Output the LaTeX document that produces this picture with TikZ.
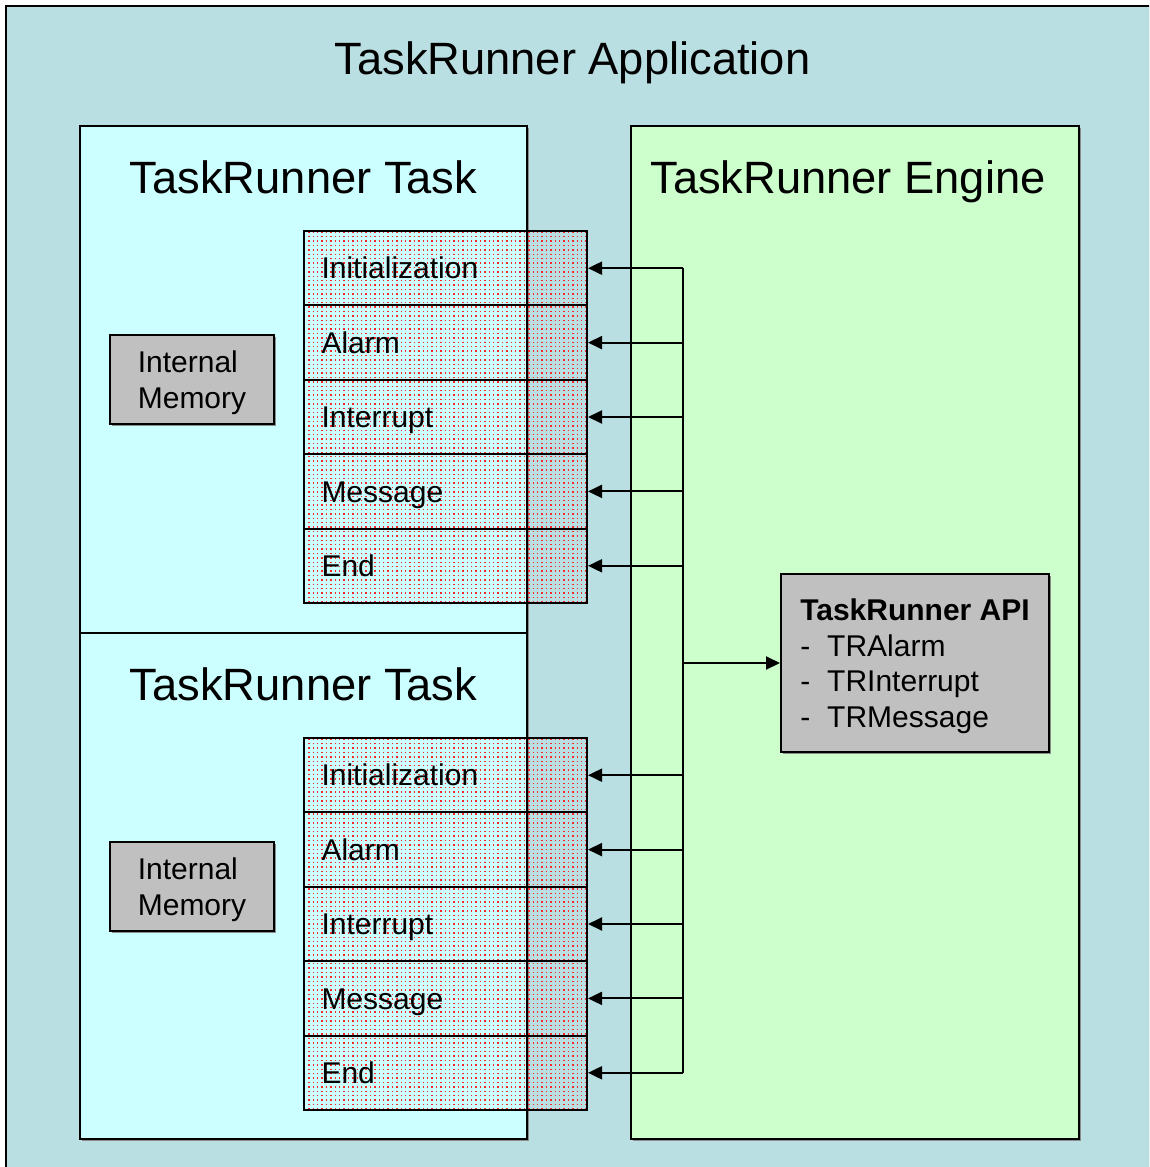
\documentclass[tikz,border=0pt]{standalone}
\usepackage{fontspec}
\setmainfont{Liberation Sans}
\usetikzlibrary{arrows.meta,shadows}

\definecolor{appbg}{HTML}{BADFE2}
\definecolor{taskbg}{HTML}{CCFFFF}
\definecolor{enginebg}{HTML}{CCFFCC}
\definecolor{membg}{HTML}{C0C0C0}

\newcommand{\bigfont}{\fontsize{45.3}{54}\selectfont}
\newcommand{\smallfont}{\fontsize{30}{35.6}\selectfont}

\begin{document}
\begin{tikzpicture}[x=1pt,y=-1pt,
  panel/.style={draw=black, line width=2pt, rectangle, inner sep=0pt, anchor=north west,
    drop shadow={shadow xshift=1.5pt, shadow yshift=-1.5pt, fill=black!45, opacity=1}},
  title/.style={anchor=base, font=\bigfont, inner sep=0pt},
  handler/.style={draw=black, line width=2pt, rectangle, anchor=north west,
    minimum width=283pt, minimum height=74.4pt, text width=248pt, align=left,
    inner xsep=17.5pt, inner ysep=0pt, text height=21.5pt, text depth=0pt, font=\smallfont},
  dotrow/.style={draw=red!85, line width=1.4pt, dash pattern=on 1.4pt off 3pt, dash phase=-0.7pt},
  graybox/.style={panel, fill=membg, font=\smallfont, align=left, text depth=0pt},
  conn/.style={line width=2pt, draw=black},
  arr/.style={conn, -{Triangle[length=14pt,width=13pt]}}
]
\fill[white] (0,0) rectangle (1149,1167);
\useasboundingbox (0,0) rectangle (1149,1167);
\clip (0,0) rectangle (1149,1167);

% application frame
\node[panel, fill=appbg, minimum width=1160pt, minimum height=1180pt] (app) at (5,5) {};
\node[title] (apptitle) at (572.5,74) {TaskRunner Application};

% task containers
\node[panel, fill=taskbg, minimum width=447pt, minimum height=507pt] (task1) at (79,125) {};
\node[panel, fill=taskbg, minimum width=447pt, minimum height=506pt] (task2) at (79,632) {};
\node[title] (task1title) at (303.5,193) {TaskRunner Task};
\node[title] (task2title) at (303.5,700) {TaskRunner Task};

% engine
\node[panel, fill=enginebg, minimum width=448pt, minimum height=1013pt] (engine) at (630,125) {};
\node[title] (enginetitle) at (848,193) {TaskRunner Engine};

% red dot screen behind each handler stack
\foreach \y in {230, 737} {
  \begin{scope}
    \clip (303,\y) rectangle (586,\y+372);
    \foreach \k in {0,...,84} {
      \draw[dotrow] (303,\y+2.2+\k*4.4) -- (587,\y+2.2+\k*4.4);
    }
  \end{scope}
}

% event handlers of each task
\foreach \t/\y in {1/230, 2/737} {
  \foreach \lbl [count=\i from 0] in {Initialization, Alarm, Interrupt, Message, End} {
    \node[handler] (h\t-\i) at (303,\y+\i*74.4) {\lbl};
  }
}

% internal memory
\node[graybox, minimum width=164pt, minimum height=89pt] (mem1) at (109,334) {Internal\\Memory};
\node[graybox, minimum width=164pt, minimum height=89pt] (mem2) at (109,841) {Internal\\Memory};

% API box
\node[graybox, minimum width=268pt, minimum height=178pt, inner xsep=18pt]
  (api) at (780,573)
  {\textbf{TaskRunner API}\\
   \makebox[27pt][l]{-}TRAlarm\\
   \makebox[27pt][l]{-}TRInterrupt\\
   \makebox[27pt][l]{-}TRMessage};

% dispatch bus
\coordinate (busx) at (683,0);
\coordinate (bustop) at (busx |- h1-0.east);
\coordinate (busbot) at (busx |- h2-4.east);
\draw[conn] (bustop) -- (busbot);

\foreach \t in {1,2} {
  \foreach \i in {0,...,4} {
    \draw[arr] (busx |- h\t-\i.east) -- (h\t-\i.east);
  }
}
\draw[arr] (busx |- api.west) -- (api.west);
\end{tikzpicture}
\end{document}
